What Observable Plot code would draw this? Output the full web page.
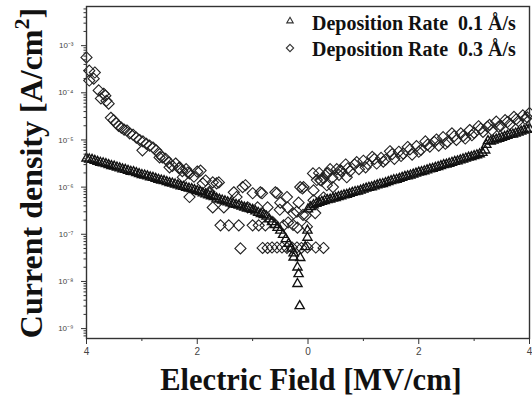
<!DOCTYPE html>
<html><head><meta charset="utf-8">
<script src="https://cdn.jsdelivr.net/npm/d3@7"></script>
<script src="https://cdn.jsdelivr.net/npm/@observablehq/plot@0.6"></script>
<style>body{margin:0;background:#fff}</style>
</head><body><div id="chart"></div>
<script>
// ---- data: [Electric field (MV/cm), log10 current density (A/cm^2)] ----
const seriesNames = ["Deposition Rate  0.1 Å/s", "Deposition Rate  0.3 Å/s"];

// 0.1 Å/s (triangles)
const triLeft = [
[-4.00,-5.39],[-3.95,-5.41],[-3.90,-5.42],[-3.85,-5.44],[-3.80,-5.46],[-3.75,-5.48],[-3.70,-5.49],[-3.65,-5.51],
[-3.60,-5.53],[-3.55,-5.55],[-3.50,-5.56],[-3.45,-5.58],[-3.40,-5.60],[-3.35,-5.62],[-3.30,-5.63],[-3.25,-5.65],
[-3.20,-5.67],[-3.15,-5.68],[-3.10,-5.70],[-3.05,-5.72],[-3.00,-5.74],[-2.95,-5.75],[-2.90,-5.77],[-2.85,-5.79],
[-2.80,-5.80],[-2.75,-5.82],[-2.70,-5.84],[-2.65,-5.86],[-2.60,-5.87],[-2.55,-5.89],[-2.50,-5.91],[-2.45,-5.92],
[-2.40,-5.94],[-2.35,-5.96],[-2.30,-5.98],[-2.25,-5.99],[-2.20,-6.01],[-2.15,-6.03],[-2.10,-6.04],[-2.05,-6.06],
[-2.00,-6.08],[-1.95,-6.10],[-1.90,-6.13],[-1.85,-6.15],[-1.80,-6.17],[-1.75,-6.19],[-1.70,-6.21],[-1.65,-6.24],
[-1.60,-6.26],[-1.55,-6.28],[-1.50,-6.30],[-1.45,-6.32],[-1.40,-6.34],[-1.35,-6.36],[-1.30,-6.37],[-1.25,-6.39],
[-1.20,-6.41],[-1.15,-6.43],[-1.10,-6.45],[-1.05,-6.46],[-1.00,-6.48],[-0.95,-6.51],[-0.90,-6.54],[-0.85,-6.57],
[-0.80,-6.59],[-0.75,-6.62],[-0.70,-6.68],[-0.65,-6.74],[-0.60,-6.80],[-0.55,-6.86],[-0.50,-6.92],[-0.45,-7.01],
[-0.40,-7.10],[-0.35,-7.20],[-0.30,-7.30],[-0.26,-7.40]
];
const triCluster = [
[-0.26,-7.49],[-0.14,-7.50],[-0.19,-7.70],[-0.17,-7.84],[-0.19,-8.05],[-0.15,-8.52],
[-0.01,-6.92],[-0.01,-7.07],[-0.05,-7.27]
];
const triRight = [
[0.00,-6.47],[0.05,-6.42],[0.10,-6.38],[0.15,-6.35],[0.20,-6.33],[0.25,-6.31],[0.30,-6.29],[0.35,-6.27],
[0.40,-6.26],[0.45,-6.24],[0.50,-6.23],[0.55,-6.21],[0.60,-6.19],[0.65,-6.17],[0.70,-6.16],[0.75,-6.14],
[0.80,-6.12],[0.85,-6.10],[0.90,-6.09],[0.95,-6.07],[1.00,-6.05],[1.05,-6.03],[1.10,-6.01],[1.15,-6.00],
[1.20,-5.98],[1.25,-5.96],[1.30,-5.94],[1.35,-5.93],[1.40,-5.91],[1.45,-5.89],[1.50,-5.87],[1.55,-5.85],
[1.60,-5.84],[1.65,-5.82],[1.70,-5.80],[1.75,-5.78],[1.80,-5.77],[1.85,-5.75],[1.90,-5.73],[1.95,-5.71],
[2.00,-5.69],[2.05,-5.68],[2.10,-5.66],[2.15,-5.64],[2.20,-5.62],[2.25,-5.61],[2.30,-5.59],[2.35,-5.57],
[2.40,-5.55],[2.45,-5.53],[2.50,-5.52],[2.55,-5.50],[2.60,-5.48],[2.65,-5.46],[2.70,-5.45],[2.75,-5.43],
[2.80,-5.41],[2.85,-5.39],[2.90,-5.37],[2.95,-5.36],[3.00,-5.34],[3.05,-5.32],[3.10,-5.30],[3.15,-5.27],
[3.20,-5.22],[3.22,-5.10],[3.25,-5.02],[3.30,-5.03],[3.35,-5.01],[3.40,-4.99],[3.45,-4.97],[3.50,-4.95],
[3.55,-4.93],[3.60,-4.91],[3.65,-4.89],[3.70,-4.88],[3.75,-4.86],[3.80,-4.84],[3.85,-4.82],[3.90,-4.80],
[3.95,-4.78],[4.00,-4.76]
];

// 0.3 Å/s (diamonds)
const diaLeft = [
[-4.00,-3.25],[-3.95,-3.53],[-3.85,-3.57],[-3.95,-3.74],[-3.87,-3.70],[-3.78,-3.95],[-3.69,-4.02],[-3.74,-4.12],
[-3.64,-4.17],[-3.60,-4.23],[-3.66,-4.06],
[-3.56,-4.53],[-3.51,-4.58],[-3.47,-4.64],[-3.42,-4.70],[-3.37,-4.74],[-3.32,-4.78],[-3.27,-4.80],[-3.22,-4.86],
[-3.16,-4.89],[-3.10,-4.95],[-3.04,-5.00],[-2.98,-5.03],[-2.92,-5.08],[-2.86,-5.12],[-2.80,-5.16],[-2.74,-5.22],
[-2.68,-5.30],[-2.63,-5.37],[-2.57,-5.40],[-2.51,-5.48],[-2.45,-5.55],[-2.39,-5.50],[-2.33,-5.60],[-2.27,-5.66],
[-2.20,-5.62],[-2.14,-5.71],[-2.06,-5.78],[-2.00,-5.67],[-1.94,-5.65],[-1.85,-5.86],[-1.72,-5.90],[-1.61,-5.90],
[-1.78,-6.10]
];
const diaMid = [
[-2.99,-5.22],[-2.68,-5.37],[-2.50,-5.58],[-2.32,-5.58],[-2.26,-5.79],[-2.14,-6.21],[-2.17,-5.69],[-1.90,-5.92],
[-1.78,-6.13],[-1.65,-5.92],[-1.72,-6.43],[-1.52,-6.43],[-1.58,-6.81],[-1.43,-6.81],[-1.25,-6.81],[-1.34,-6.11],
[-1.29,-6.21],[-1.18,-6.00],[-1.13,-5.96],[-1.22,-7.30],[-1.09,-6.43],[-1.00,-6.81],[-0.89,-6.81],[-0.77,-6.81],
[-1.00,-6.13],[-0.86,-6.11],[-0.83,-6.13],[-0.91,-6.43],[-0.73,-6.43],[-0.59,-6.11],[-0.56,-6.13],[-0.50,-6.33],
[-0.51,-6.48],[-0.63,-6.75],[-0.44,-6.81],[-0.37,-6.43],[-0.38,-6.21],[-0.36,-6.75],[-0.27,-6.80],[-0.26,-6.56],
[-0.19,-6.86],[-0.17,-6.33],[-0.20,-6.52],[-0.14,-6.00],[-0.10,-6.03],[-0.09,-6.59],[-0.04,-6.60],[-0.02,-6.84],
[-0.82,-7.29],[-0.73,-7.29],[-0.65,-7.28],[-0.56,-7.28],[-0.47,-7.28],[-0.38,-7.29],[-0.29,-7.28],[-0.20,-7.28],
[-0.12,-7.29],[-0.01,-7.28],[0.14,-7.28],[0.28,-7.29],
[0.10,-6.28],[0.13,-6.55],[0.28,-6.22],[0.16,-5.85],[0.34,-5.71],[0.34,-5.96],[0.45,-6.00],[0.58,-5.64],
[0.70,-5.79],[-0.08,-6.00],[0.10,-6.07],[0.09,-5.71],[0.22,-5.85]
];
const diaRight = [
[0.20,-5.70],[0.28,-5.81],[0.36,-5.70],[0.44,-5.80],[0.52,-5.62],[0.60,-5.66],[0.68,-5.52],[0.76,-5.66],
[0.84,-5.52],[0.92,-5.62],[1.00,-5.44],[1.08,-5.51],[1.16,-5.36],[1.24,-5.50],[1.32,-5.38],[1.40,-5.42],
[1.48,-5.24],[1.56,-5.40],[1.64,-5.25],[1.72,-5.29],[1.80,-5.15],[1.88,-5.31],[1.96,-5.13],[2.04,-5.21],
[2.12,-5.03],[2.20,-5.14],[2.28,-5.04],[2.36,-5.12],[2.44,-4.94],[2.52,-5.04],[2.60,-4.86],[2.68,-5.00],
[2.76,-4.86],[2.84,-4.97],[2.92,-4.79],[3.00,-4.85],[3.08,-4.71],[3.16,-4.83],[3.24,-4.72],[3.32,-4.79],
[3.40,-4.61],[3.48,-4.70],[3.56,-4.58],[3.64,-4.67],[3.72,-4.51],[3.80,-4.60],[3.88,-4.48],[3.96,-4.52],
[4.00,-4.43],
[0.24,-5.86],[0.40,-5.62],[0.56,-5.74],[0.72,-5.60],[0.88,-5.47],[1.04,-5.58],[1.20,-5.40],[1.36,-5.46],
[1.52,-5.30],[1.68,-5.34],[1.84,-5.20],[2.00,-5.25],[2.16,-5.10],[2.32,-4.99],[2.48,-5.08],[2.64,-4.92],
[2.80,-4.92],[2.96,-4.90],[3.12,-4.76],[3.28,-4.68],[3.44,-4.72],[3.60,-4.62],[3.76,-4.56],[3.92,-4.55]
];

// axes
const xMajor = [-4, -2, 0, 2, 4];
const xTickLabels = ["4", "2", "0", "2", "4"];
const xMinor = [-3, -1, 1, 3];
const yExp = [-9, -8, -7, -6, -5, -4, -3];
const yTickLabels = ["10⁻⁹", "10⁻⁸", "10⁻⁷", "10⁻⁶", "10⁻⁵", "10⁻⁴", "10⁻³"];
const xTitle = "Electric Field [MV/cm]";
const yTitle = ["Current density [A/cm", "2", "]"];

const yMajor = yExp.map(e => 10 ** e);
const yMinor = [];
for (let e = -10; e <= -3; e++) for (let m = 2; m <= 9; m++) {
  const v = m * 10 ** e;
  if (v > 10 ** -9.21 && v < 10 ** -2.17) yMinor.push(v);
}

const triangles = [...triLeft, ...triCluster, ...triRight];
const diamonds = [...diaLeft, ...diaMid, ...diaRight];

const plot = Plot.plot({
  width: 532, height: 397,
  marginLeft: 86, marginRight: 3, marginTop: 6, marginBottom: 59,
  x: {domain: [-4, 4]},
  y: {type: "log", domain: [10 ** -9.21, 10 ** -2.17]},
  style: {fontFamily: "'Liberation Sans', Arial, sans-serif", background: "white", color: "#333"},
  marks: [
    Plot.axisX(xMajor, {tickSize: 6, tickPadding: 3, fontSize: 10, fill: "#444", stroke: "#333",
      tickFormat: d => xTickLabels[xMajor.indexOf(d)], label: null}),
    Plot.axisX(xMinor, {tickSize: 3, tickFormat: () => "", stroke: "#333", label: null}),
    Plot.axisY(yMajor, {tickSize: 5, tickPadding: 8, fontSize: 8, fill: "#444", stroke: "#333",
      tickFormat: d => yTickLabels[yMajor.indexOf(d)], label: null}),
    Plot.axisY(yMinor, {tickSize: 2.5, tickFormat: () => "", stroke: "#333", label: null}),
    Plot.dot(diamonds, {x: d => d[0], y: d => 10 ** d[1], symbol: "diamond2", r: 5,
      stroke: "#222", strokeWidth: 1.1, fill: "none"}),
    Plot.dot(triangles, {x: d => d[0], y: d => 10 ** d[1], symbol: "triangle2", r: 4.4,
      stroke: "#111", strokeWidth: 1.35, fill: "none"}),
    Plot.frame({stroke: "#333", strokeWidth: 1.4})
  ]
});
document.getElementById("chart").appendChild(plot);

const svg = d3.select(plot);
const serif = "'Liberation Serif', 'Times New Roman', serif";
svg.append("text")
  .attr("x", 311).attr("y", 390).attr("text-anchor", "middle")
  .attr("font-family", serif).attr("font-weight", "bold").attr("font-size", 30.5).attr("fill", "#111")
  .text(xTitle);
const yt = svg.append("text")
  .attr("transform", "translate(42,173) rotate(-90)").attr("text-anchor", "middle")
  .attr("font-family", serif).attr("font-weight", "bold").attr("font-size", 32).attr("fill", "#111");
yt.append("tspan").text(yTitle[0]);
yt.append("tspan").attr("dy", -13).attr("font-size", 22).text(yTitle[1]);
yt.append("tspan").attr("dy", 13).text(yTitle[2]);

// legend
const legendSymbols = [d3.symbolTriangle2, d3.symbolDiamond2];
const legendSizes = [30, 34];
const lg = svg.append("g");
seriesNames.forEach((name, i) => {
  lg.append("path").attr("d", d3.symbol(legendSymbols[i], legendSizes[i])())
    .attr("transform", `translate(290,${21 + i * 27})`)
    .attr("fill", "none").attr("stroke", "#333").attr("stroke-width", 1.1);
  lg.append("text").attr("x", 312).attr("y", 30 + i * 26).attr("text-anchor", "start")
    .attr("font-family", serif).attr("font-weight", "bold").attr("font-size", 20).attr("fill", "#111")
    .style("white-space", "pre")
    .text(name);
});
</script>
</body></html>
